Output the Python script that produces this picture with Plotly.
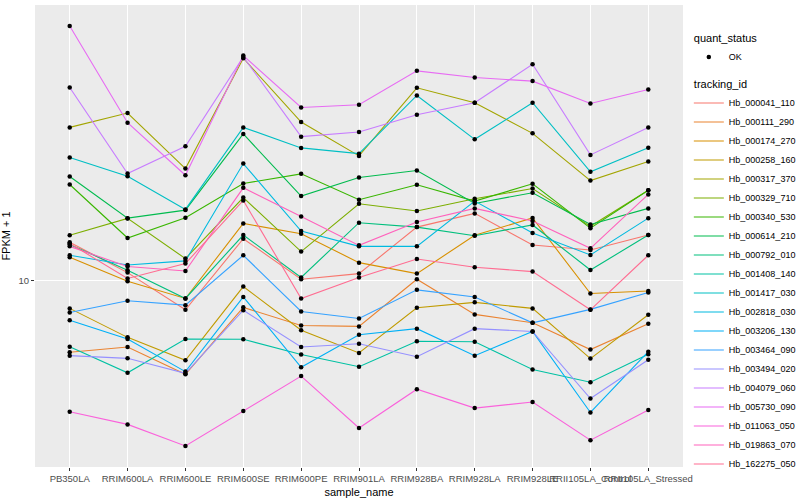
import math
import plotly.graph_objects as go

samples = ["PB350LA", "RRIM600LA", "RRIM600LE", "RRIM600SE", "RRIM600PE", "RRIM901LA",
           "RRIM928BA", "RRIM928LA", "RRIM928LE", "RRII105LA_Control", "RRII105LA_Stressed"]

tracking_ids = ["Hb_000041_110", "Hb_000111_290", "Hb_000174_270", "Hb_000258_160", "Hb_000317_370",
                "Hb_000329_710", "Hb_000340_530", "Hb_000614_210", "Hb_000792_010", "Hb_001408_140",
                "Hb_001417_030", "Hb_002818_030", "Hb_003206_130", "Hb_003464_090", "Hb_003494_020",
                "Hb_004079_060", "Hb_005730_090", "Hb_011063_050", "Hb_019863_070", "Hb_162275_050"]

colors = ["#F8766D", "#EA8331", "#D89000", "#C09B00", "#A3A500", "#7CAE00", "#39B600", "#00BB4E",
          "#00BF7D", "#00C1A3", "#00BFC4", "#00BAE0", "#00B0F6", "#35A2FF", "#9590FF", "#C77CFF",
          "#E76BF3", "#FA62DB", "#FF62BC", "#FF6C91"]

# FPKM + 1 per tracking id, in sample order
hb_000041_110 = [12.45, 10.45, 8.43, 12.71, 10.06, 10.39, 13.59, 14.71, 12.25, 11.91, 12.98]
hb_000111_290 = [6.60, 6.80, 5.81, 8.55, 7.70, 7.66, 10.06, 8.21, 7.82, 6.70, 7.78]
hb_000174_270 = [11.42, 9.94, 9.00, 13.88, 13.08, 11.07, 10.39, 12.96, 14.33, 9.26, 9.40]
hb_000258_160 = [8.50, 7.19, 6.30, 9.64, 7.49, 6.57, 8.53, 8.80, 8.50, 6.36, 8.19]
hb_000317_370 = [24.17, 26.26, 19.05, 36.04, 24.93, 20.50, 30.37, 27.86, 23.35, 17.78, 19.84]
hb_000329_710 = [12.96, 14.29, 11.33, 16.12, 11.80, 15.55, 14.92, 16.00, 16.98, 13.65, 16.82]
hb_000340_530 = [17.38, 12.76, 14.35, 17.48, 18.48, 15.92, 17.35, 15.79, 17.45, 13.51, 16.82]
hb_000614_210 = [18.20, 14.31, 14.99, 23.27, 16.26, 18.09, 18.84, 15.58, 16.57, 13.80, 15.14]
hb_000792_010 = [12.30, 10.59, 9.00, 12.98, 10.16, 13.94, 13.59, 12.93, 13.76, 10.61, 12.98]
hb_001408_140 = [6.81, 5.86, 7.12, 7.11, 6.51, 6.07, 7.03, 7.01, 5.97, 5.55, 6.52]
hb_001417_030 = [20.30, 18.23, 15.05, 24.17, 21.47, 20.77, 29.06, 22.56, 27.86, 18.70, 21.50]
hb_002818_030 = [11.55, 10.92, 11.18, 19.61, 13.28, 12.16, 12.16, 15.79, 13.14, 11.57, 14.31]
hb_003206_130 = [7.94, 7.12, 5.90, 9.08, 6.05, 7.30, 7.56, 6.47, 7.44, 4.66, 6.62]
hb_003464_090 = [8.30, 8.88, 8.66, 11.55, 8.35, 8.02, 9.46, 9.08, 7.82, 8.45, 9.32]
hb_003494_020 = [6.47, 6.37, 5.84, 8.41, 6.80, 6.93, 6.43, 7.56, 7.44, 5.05, 6.32]
hb_004079_060 = [30.43, 18.51, 21.66, 36.31, 22.91, 23.54, 26.00, 27.86, 34.81, 20.62, 24.17]
hb_005730_090 = [43.40, 24.83, 18.33, 36.58, 27.12, 27.54, 33.50, 32.23, 31.57, 27.75, 30.08]
hb_011063_050 = [4.68, 4.35, 3.84, 4.70, 5.75, 4.26, 5.33, 4.78, 4.95, 3.97, 4.73]
hb_019863_070 = [12.16, 10.82, 10.55, 17.05, 14.45, 12.23, 13.99, 15.14, 14.08, 12.02, 16.41]
hb_162275_050 = [12.37, 10.10, 11.01, 15.85, 9.00, 10.16, 11.30, 10.78, 10.51, 8.43, 11.55]

y_ticks = [10]
y_tick_labels = ["10"]

series = [hb_000041_110, hb_000111_290, hb_000174_270, hb_000258_160, hb_000317_370,
          hb_000329_710, hb_000340_530, hb_000614_210, hb_000792_010, hb_001408_140,
          hb_001417_030, hb_002818_030, hb_003206_130, hb_003464_090, hb_003494_020,
          hb_004079_060, hb_005730_090, hb_011063_050, hb_019863_070, hb_162275_050]

FONT = "Liberation Sans, Arial, sans-serif"

fig = go.Figure()

for i, (tid, col, vals) in enumerate(zip(tracking_ids, colors, series)):
    fig.add_trace(go.Scatter(
        x=samples, y=vals, mode="lines", name=tid,
        line=dict(color=col, width=1.1),
        legendgroup="tracking_id", legendrank=100 + i,
        legendgrouptitle=dict(text="tracking_id", font=dict(size=11, color="black")) if i == 0 else None,
        hoverinfo="skip",
    ))

all_x = [s for vals in series for s in samples]
all_y = [v for vals in series for v in vals]
fig.add_trace(go.Scatter(
    x=all_x, y=all_y, mode="markers", name="OK",
    marker=dict(color="black", size=4.5, symbol="circle"),
    legendgroup="quant_status", legendrank=1,
    legendgrouptitle=dict(text="quant_status", font=dict(size=11, color="black")),
))

lo = math.log10(min(all_y))
hi = math.log10(max(all_y))
pad = 0.05 * (hi - lo)

fig.update_layout(
    width=800, height=500,
    margin=dict(l=35, r=117, t=5, b=33, autoexpand=False),
    paper_bgcolor="white", plot_bgcolor="#EBEBEB",
    font=dict(family=FONT, color="black"),
    legend=dict(x=1.009, xanchor="left", y=0.96, yanchor="top",
                font=dict(size=9, color="black"), tracegroupgap=8,
                bgcolor="rgba(255,255,255,0)", itemwidth=30),
    xaxis=dict(
        type="category", categoryorder="array", categoryarray=samples,
        range=[-0.6, len(samples) - 0.4],
        showgrid=True, gridcolor="white", gridwidth=1.1,
        zeroline=False, showline=False,
        ticks="outside", ticklen=3, tickcolor="#333333", tickangle=0,
        tickfont=dict(size=9.5, color="#4D4D4D"),
        title=dict(text="sample_name", font=dict(size=11, color="black"), standoff=4),
    ),
    yaxis=dict(
        type="log", range=[lo - pad, hi + pad],
        tickvals=y_ticks, ticktext=y_tick_labels,
        showgrid=True, gridcolor="white", gridwidth=1.1,
        zeroline=False, showline=False,
        ticks="outside", ticklen=3, tickcolor="#333333",
        tickfont=dict(size=9.5, color="#4D4D4D"),
        title=dict(text="FPKM + 1", font=dict(size=11, color="black"), standoff=6),
    ),
)

fig.write_html("out.html", config={"displayModeBar": False},
               post_script="document.body.style.margin='0px';document.body.style.overflow='hidden';")
